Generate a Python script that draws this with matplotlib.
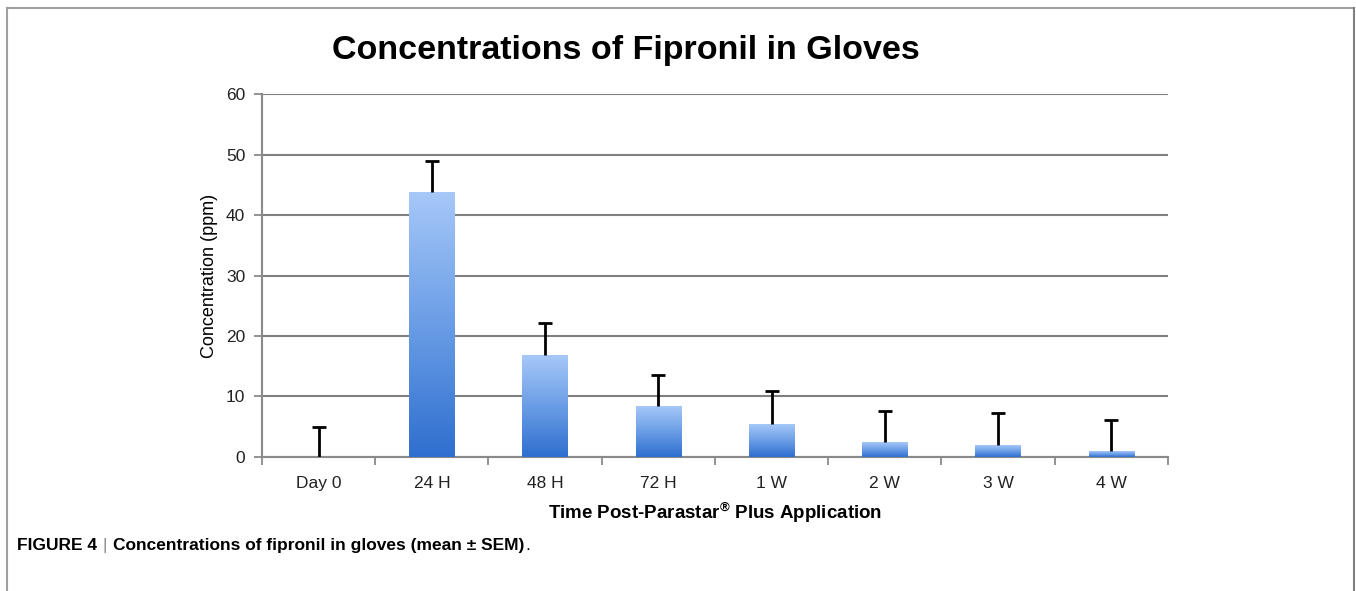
import matplotlib
matplotlib.use("Agg")
import matplotlib.pyplot as plt
import numpy as np
from matplotlib.lines import Line2D
from matplotlib.colors import LinearSegmentedColormap

plt.rcParams["font.family"] = ["Liberation Sans", "DejaVu Sans"]
plt.rcParams["mathtext.fontset"] = "custom"
plt.rcParams["mathtext.rm"] = "Liberation Sans:bold"

categories = ["Day 0", "24 H", "48 H", "72 H", "1 W", "2 W", "3 W", "4 W"]
means = [0.0, 43.8, 16.8, 8.4, 5.4, 2.4, 1.9, 0.95]
sem = [5.0, 5.2, 5.3, 5.1, 5.4, 5.1, 5.3, 5.15]

fig = plt.figure(figsize=(13.56, 5.91), dpi=100)
ax = fig.add_axes([0.1932, 0.2272, 0.6681, 0.6132])

x = np.arange(len(categories))
width = 0.40
cmap = LinearSegmentedColormap.from_list("bar", ["#2f6fcf", "#6a9de6", "#a6c8f8"])
grad = np.linspace(0, 1, 256).reshape(-1, 1)

bars = ax.bar(x, means, width=width, color="none", zorder=3)
for b in bars:
    h = b.get_height()
    if h <= 0:
        continue
    x0 = b.get_x()
    ax.imshow(grad, cmap=cmap, origin="lower", aspect="auto",
              extent=[x0, x0 + width, 0, h], zorder=3)

_, caps, _ = ax.errorbar(x, means, yerr=[np.zeros(len(sem)), sem], fmt="none",
                         ecolor="black", elinewidth=2, capsize=5, capthick=2, zorder=4)
caps[0].set_visible(False)  # only the upper cap, like the original

ax.set_xlim(-0.5, len(categories) - 0.5)
ax.set_ylim(0, 60)
ax.set_yticks(range(0, 61, 10))
ax.yaxis.grid(True, color="#808080", linewidth=1.5)
ax.set_axisbelow(True)

ax.set_xticks(x)
ax.set_xticklabels(categories, fontsize=12.5, color="#222222")
ax.set_xticks(np.arange(-0.5, len(categories), 1), minor=True)
ax.tick_params(axis="x", which="major", length=0, pad=14)
ax.tick_params(axis="x", which="minor", length=6, width=1.3, color="#8a8a8a", direction="out")
ax.tick_params(axis="y", length=6, width=1.3, color="#8a8a8a", labelsize=12.5,
               labelcolor="#222222", pad=6)

for s in ["top", "right"]:
    ax.spines[s].set_visible(False)
for s in ["left", "bottom"]:
    ax.spines[s].set_color("#8a8a8a")
    ax.spines[s].set_linewidth(1.5)

ax.set_ylabel("Concentration (ppm)", fontsize=13, labelpad=6)
fig.text(0.527, 0.133, "Time Post-Parastar$^{®}$ Plus Application",
         ha="center", va="center", fontsize=13.5, fontweight="bold")

fig.text(0.4617, 0.915, "Concentrations of Fipronil in Gloves", ha="center",
         va="center", fontsize=24.5, fontweight="bold")

# caption, pieces placed one after another
fig.canvas.draw()
renderer = fig.canvas.get_renderer()
cap_y = 0.077
pieces = [("FIGURE 4", dict(fontweight="bold", color="black"), 6),
          ("|", dict(color="#888888"), 6),
          ("Concentrations of fipronil in gloves (mean \u00b1 SEM)",
           dict(fontweight="bold", color="black"), 1),
          (".", dict(color="black"), 0)]
xpix = 17
for txt, kw, gap in pieces:
    t = fig.text(xpix / 1356, cap_y, txt, ha="left", va="center", fontsize=12.5, **kw)
    bb = t.get_window_extent(renderer)
    xpix = bb.x1 + gap

# outer frame
W, H = 1356, 591
fc = "#a0a0a0"
fig.add_artist(Line2D([7 / W, 1354 / W], [1 - 8 / H, 1 - 8 / H], color=fc, lw=1.5))
fig.add_artist(Line2D([7 / W, 7 / W], [0, 1 - 8 / H], color=fc, lw=1.5))
fig.add_artist(Line2D([1354 / W, 1354 / W], [0, 1 - 8 / H], color="#808080", lw=1.5))

fig.savefig("out.png", dpi=100)
